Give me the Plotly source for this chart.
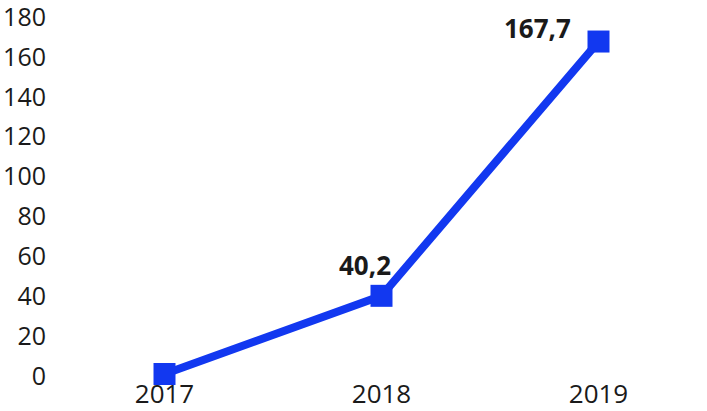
import plotly.graph_objects as go

years = ["2017", "2018", "2019"]
values = [1.0, 40.2, 167.7]
labels = ["", "40,2", "167,7"]
y_ticks = [0, 20, 40, 60, 80, 100, 120, 140, 160, 180]

BLUE = "#1238F0"
FONT = "Open Sans"

fig = go.Figure()
fig.add_trace(go.Scatter(
    x=years, y=values, mode="lines+markers",
    line=dict(color=BLUE, width=8),
    marker=dict(symbol="square", size=22, color=BLUE),
    cliponaxis=False, hoverinfo="skip",
))

shifts = [(0, 0), (11, 31), (-26, 14)]
for i, (y, t) in enumerate(zip(values, labels)):
    if not t:
        continue
    dx, dy = shifts[i]
    fig.add_annotation(x=i, y=y, xref="x", yref="y", text=t, showarrow=False,
                       xanchor="right", yanchor="middle", xshift=dx, yshift=dy,
                       font=dict(family=FONT, size=26, color="#1a1a1a", weight="bold"))

fig.update_layout(
    width=707, height=411,
    margin=dict(l=56, r=0, t=17, b=35),
    paper_bgcolor="white", plot_bgcolor="white",
    showlegend=False,
    font=dict(family=FONT, size=26, color="#1a1a1a"),
)
fig.update_xaxes(type="category", range=[-0.5, 2.5], showgrid=False, zeroline=False,
                 showline=False, ticks="", ticklabelstandoff=0, automargin=False)
fig.update_yaxes(range=[0, 180], tickvals=y_ticks, showgrid=False, zeroline=False,
                 showline=False, ticks="", ticklabelstandoff=9, automargin=False,
                 ticklabeloverflow="allow", tickfont=dict(size=25))

fig.write_html("out.html", config={"displayModeBar": False},
               post_script="document.body.style.margin='0';")
